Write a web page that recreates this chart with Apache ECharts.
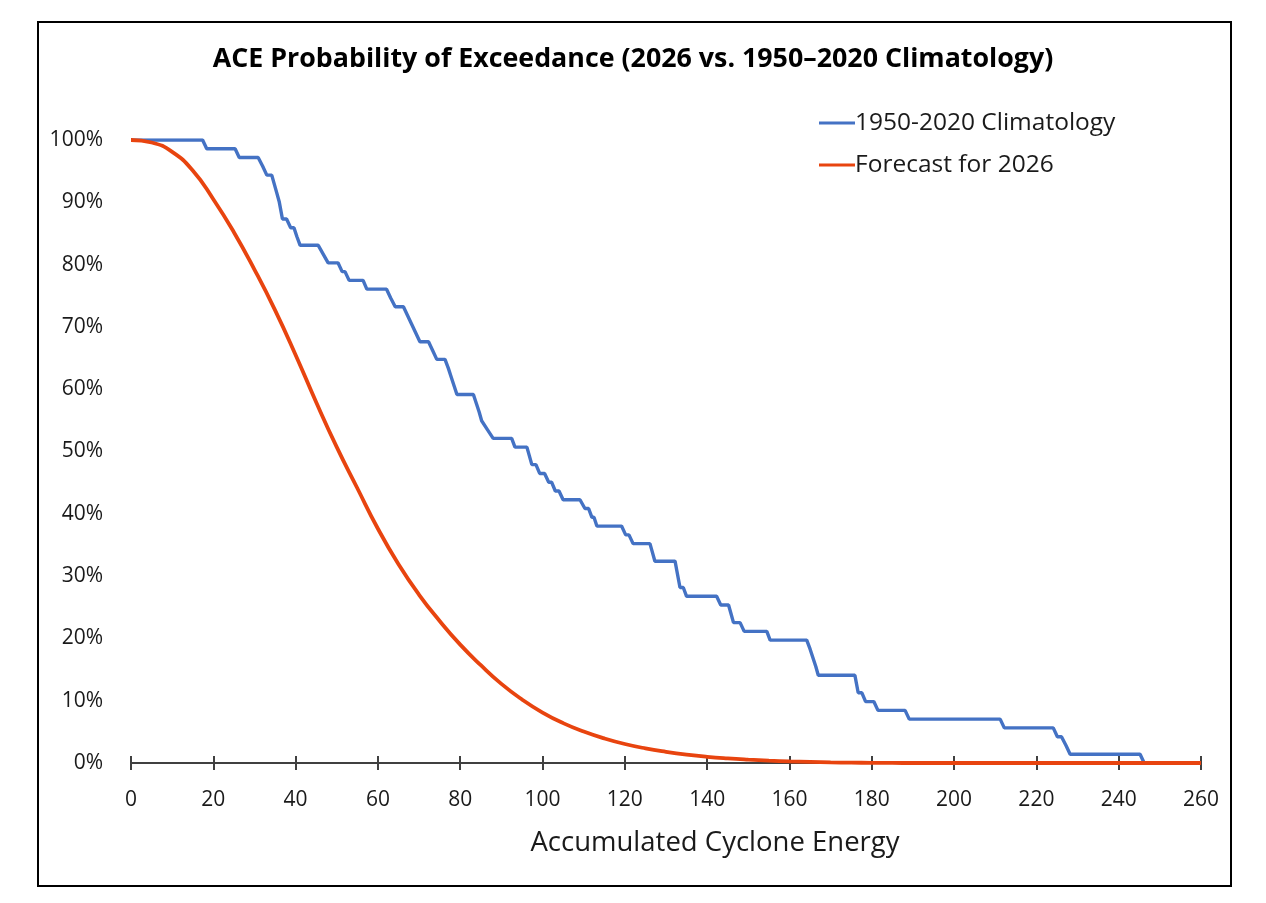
<!DOCTYPE html>
<html>
<head>
<meta charset="utf-8">
<title>ACE Probability of Exceedance</title>
<script src="https://cdn.jsdelivr.net/npm/echarts@6/dist/echarts.min.js"></script>
<style>
	html, body { margin: 0; padding: 0; background: #fff; }
	#chart { width: 1266px; height: 903px; }
</style>
</head>
<body>
<div id="chart"></div>
<script>
// x ticks / y ticks
var xTicks = [0, 20, 40, 60, 80, 100, 120, 140, 160, 180, 200, 220, 240, 260];
var yTicks = [0, 10, 20, 30, 40, 50, 60, 70, 80, 90, 100];

// 1950-2020 climatology: corner points of the step curve (ACE, years above)
var climoYearsTotal = 71;
var climoAce = [0, 17.4, 18.4, 25.3, 26.3, 30.9, 32, 33, 34.2, 34.8, 35.4, 36, 36.8, 37.8, 38.8, 39.6, 40.3, 41.1,
	45.5, 46.7, 47.9, 50.3, 51.3, 52, 53, 56.4, 57.3, 62.1, 63.1, 64.2, 66.2, 67.2, 68.2, 69.2, 70.2,
	72.3, 73.3, 74.3, 76.3, 77.1, 77.8, 78.5, 79.2, 83.2, 83.9, 84.6, 85.2, 86.6, 88, 92.5, 93.3,
	96.2, 96.8, 97.4, 98.4, 99.3, 100.5, 101.5, 102.2, 103.1, 104, 105, 109.1, 110.3, 111.2, 112,
	112.5, 113.2, 119.2, 120.2, 121, 122, 126.1, 126.7, 127.3, 132.2, 132.6, 133, 133.4, 134.2, 135,
	142.3, 143.3, 145.2, 145.8, 146.4, 148, 149, 154.5, 155.3, 164.2, 165, 165.7, 166.4, 167,
	175.9, 176.3, 176.7, 177.6, 178.5, 180.5, 181.5, 188.1, 189.1, 211.2, 212.2, 224.1, 225.1,
	226.1, 227.2, 228.2, 245.2, 246.2];
var climoYears = [71, 71, 70, 70, 69, 69, 68, 67, 67, 66, 65, 64, 62, 62, 61, 61, 60, 59,
	59, 58, 57, 57, 56, 56, 55, 55, 54, 54, 53, 52, 52, 51, 50, 49, 48,
	48, 47, 46, 46, 45, 44, 43, 42, 42, 41, 40, 39, 38, 37, 37, 36,
	36, 35, 34, 34, 33, 33, 32, 32, 31, 31, 30, 30, 29, 29, 28,
	28, 27, 27, 26, 26, 25, 25, 24, 23, 23, 22, 21, 20, 20, 19,
	19, 18, 18, 17, 16, 16, 15, 15, 14, 14, 13, 12, 11, 10,
	10, 9, 8, 8, 7, 7, 6, 6, 5, 5, 4, 4, 3,
	3, 2, 1, 1, 0];

// forecast for 2026 (percent exceeding)
var fcstAce = [0, 5, 10, 15, 20, 25, 30, 35, 40, 45, 50, 55, 60, 65, 70, 75, 80, 85, 90, 95, 100,
	105, 110, 115, 120, 125, 130, 135, 140, 145, 150, 155, 160, 165, 170, 175, 180, 185, 190, 200,
	220, 240, 260];
var fcstPct = [100, 99.6, 98.1, 95.1, 90.5, 85.2, 79.2, 72.7, 65.5, 57.9, 50.7, 44.1, 37.6, 31.9,
	27.0, 22.8, 19.0, 15.7, 12.7, 10.2, 8.1, 6.4, 5.05, 3.95, 3.05, 2.35, 1.8, 1.35, 1.0, 0.74,
	0.54, 0.38, 0.26, 0.17, 0.1, 0.06, 0.03, 0.01, 0, 0, 0, 0, 0];

var climoData = [];
for (var i = 0; i < climoAce.length; i++) {
	climoData.push([climoAce[i], climoYears[i] / climoYearsTotal * 100]);
}
climoData.push([260, 0]);
var fcstData = [];
for (var j = 0; j < fcstAce.length; j++) {
	fcstData.push([fcstAce[j], fcstPct[j]]);
}

var font = '"Open Sans", "Noto Sans", sans-serif';
var chart = echarts.init(document.getElementById('chart'), null, { renderer: 'canvas' });

var option = {
	backgroundColor: '#ffffff',
	animation: false,
	title: {
		text: 'ACE Probability of Exceedance (2026 vs. 1950\u20132020 Climatology)',
		left: 'center',
		top: 41,
		textStyle: {
			fontFamily: font,
			fontWeight: 'bold',
			fontSize: 26.8,
			color: '#000'
		}
	},
	graphic: [ {
		type: 'rect',
		shape: { x: 38, y: 22, width: 1193, height: 864 },
		style: { fill: 'none', stroke: '#000', lineWidth: 2 },
		z: -1
	} ],
	legend: {
		orient: 'vertical',
		left: 814,
		top: 104,
		itemWidth: 36,
		itemHeight: 3,
		itemGap: 14,
		icon: 'rect',
		textStyle: {
			fontFamily: font,
			fontSize: 24.5,
			lineHeight: 28,
			color: '#1a1a1a',
			padding: [0, 0, 0, -5]
		},
		data: ['1950-2020 Climatology', 'Forecast for 2026']
	},
	grid: {
		left: 131,
		right: 65,
		top: 140,
		bottom: 140
	},
	xAxis: [ {
		type: 'value',
		min: xTicks[0],
		max: xTicks[xTicks.length - 1],
		interval: 20,
		name: 'Accumulated Cyclone Energy',
		nameLocation: 'middle',
		nameGap: 66,
		nameTextStyle: {
			fontFamily: font,
			fontSize: 27.5,
			color: '#1a1a1a',
			padding: [0, 0, 0, 98]
		},
		axisLine: { show: true, lineStyle: { color: '#404040', width: 2 } },
		axisTick: { show: true, length: 7, lineStyle: { color: '#404040', width: 2 } },
		axisLabel: {
			margin: 27,
			fontFamily: font,
			fontSize: 21,
			color: '#1a1a1a'
		},
		splitLine: { show: false }
	}, {
		type: 'value',
		position: 'bottom',
		min: xTicks[0],
		max: xTicks[xTicks.length - 1],
		interval: 20,
		axisLine: { show: false },
		axisTick: { show: true, inside: true, length: 7, lineStyle: { color: '#404040', width: 2 } },
		axisLabel: { show: false },
		splitLine: { show: false }
	} ],
	yAxis: {
		type: 'value',
		min: yTicks[0],
		max: yTicks[yTicks.length - 1],
		interval: 10,
		axisLine: { show: false },
		axisTick: { show: false },
		splitLine: { show: false },
		axisLabel: {
			margin: 28,
			formatter: '{value}%',
			fontFamily: font,
			fontSize: 21,
			color: '#1a1a1a'
		}
	},
	series: [ {
		name: '1950-2020 Climatology',
		type: 'line',
		data: climoData,
		showSymbol: false,
		symbol: 'none',
		lineStyle: { color: '#4472C4', width: 3.4 },
		itemStyle: { color: '#4472C4' },
		z: 2
	}, {
		name: 'Forecast for 2026',
		type: 'line',
		data: fcstData,
		smooth: 0.5,
		showSymbol: false,
		symbol: 'none',
		lineStyle: { color: '#E8440F', width: 3.8 },
		itemStyle: { color: '#E8440F' },
		z: 3
	} ]
};
chart.setOption(option);
</script>
</body>
</html>
